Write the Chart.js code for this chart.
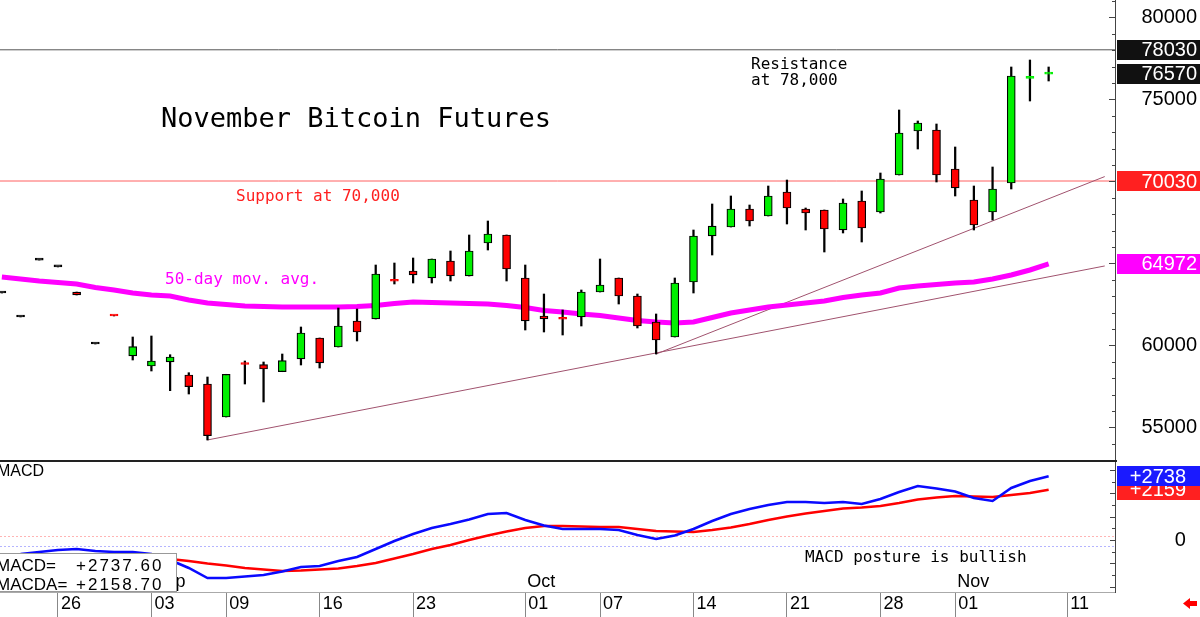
<!DOCTYPE html>
<html>
<head>
<meta charset="utf-8">
<script src="https://cdn.jsdelivr.net/npm/chart.js@4.4.1/dist/chart.umd.min.js"></script>
<style>
  html, body { margin: 0; padding: 0; background: #fff; }
  #wrap { width: 1200px; height: 617px; overflow: hidden; }
  canvas { display: block; }
</style>
</head>
<body>
<div id="wrap">
  <canvas id="price" width="1200" height="460"></canvas>
  <canvas id="macd" width="1200" height="157"></canvas>
</div>
<script>
// trading days shown on the chart (Aug 21 .. Nov 8)
const days = ['Aug 21','Aug 22','Aug 23','Aug 26','Aug 27','Aug 28','Aug 29','Aug 30',
  'Sep 3','Sep 4','Sep 5','Sep 6','Sep 9','Sep 10','Sep 11','Sep 12','Sep 13',
  'Sep 16','Sep 17','Sep 18','Sep 19','Sep 20','Sep 23','Sep 24','Sep 25','Sep 26','Sep 27',
  'Sep 30','Oct 1','Oct 2','Oct 3','Oct 4','Oct 7','Oct 8','Oct 9','Oct 10','Oct 11',
  'Oct 14','Oct 15','Oct 16','Oct 17','Oct 18','Oct 21','Oct 22','Oct 23','Oct 24','Oct 25',
  'Oct 28','Oct 29','Oct 30','Oct 31','Nov 1','Nov 4','Nov 5','Nov 6','Nov 7','Nov 8'];
const axisDays = days.concat(['Nov 11', 'Nov 12', 'Nov 13']);

const open = [63200,61740,65210,64790,63260,60090,61840,59360,58750,58994,
  58201,57652,55640,58880,58829,58402,59177,60457,59908,61494,
  61616,63960,64543,64116,65152,64238,66250,66738,64116,61799,
  61640,61738,63262,64116,63018,61433,60518,63872,66677,67225,
  68323,67896,69360,68323,68262,67043,68811,68140,70396,73079,
  73140,70762,68872,68140,69908,76290,76550];
const high = [63200,61740,65210,64790,63260,60090,61840,60518,60579,59439,
  58341,58079,58244,59055,58994,59481,61128,60457,62286,62225,
  64908,65030,65335,65274,65762,66738,67591,66738,64908,63140,
  62164,63384,65274,64116,63140,61921,64116,67043,68628,69116,
  68567,69725,70091,68384,68262,68933,69421,70518,74360,73689,
  73506,72104,69725,70884,76982,77408,76982];
const low = [63200,61740,65210,64790,63080,60090,61800,59116,58445,57244,
  57042,54238,55640,57652,56555,58402,58811,58628,59908,60274,
  61616,63750,63811,63811,63933,64238,65823,63933,60945,60823,
  60640,61189,63262,62530,61067,59481,60518,63201,65518,67225,
  67286,67896,67408,67043,65701,66860,66311,68079,70396,71982,
  69969,69116,67043,67652,69543,74908,76128];
const close = [63200,61740,65210,64790,63080,60090,61800,59927,59055,59299,
  57488,54500,58244,58840,58567,59073,60762,58933,61189,60823,
  64360,63920,64299,65274,64238,65762,66799,64664,61494,61616,
  61600,63262,63689,63018,61189,60335,63811,66677,67286,68323,
  67591,69116,68384,68079,67103,68689,67164,70152,72957,73567,
  70396,69604,67347,69543,76433,76330,76570];
const ma50 = [64177,64055,63933,63841,63750,63537,63384,63201,63079,63018,
  62774,62591,62500,62408,62378,62348,62348,62348,62348,62378,
  62439,62561,62652,62622,62591,62561,62530,62439,62317,62134,
  62043,61921,61829,61677,61524,61433,61372,61433,61707,61982,
  62165,62348,62470,62591,62713,62927,63079,63201,63506,63628,
  63720,63811,63872,64055,64299,64604,64972];
const macd = [-644,-601,-515,-429,-386,-472,-515,-515,-601,-858,
  -1201,-1630,-1630,-1566,-1502,-1351,-1158,-1115,-901,-729,
  -386,-43,257,515,686,879,1115,1158,858,622,
  472,472,472,429,215,43,193,472,815,1115,
  1330,1502,1630,1630,1587,1630,1544,1759,2059,2317,
  2209,2081,1802,1673,2231,2531,2737.6];
const macdAvg = [-987,-944,-901,-858,-815,-794,-772,-751,-751,-815,
  -901,-1008,-1094,-1201,-1266,-1330,-1308,-1266,-1223,-1115,
  -987,-794,-601,-386,-215,0,193,365,515,601,
  601,579,558,558,472,386,365,343,429,536,
  686,858,1008,1137,1244,1351,1394,1459,1587,1737,
  1823,1888,1866,1845,1930,2016,2158.7];

const tickDays = ['Aug 26','Sep 3','Sep 9','Sep 16','Sep 23','Oct 1','Oct 7','Oct 14','Oct 21','Oct 28','Nov 1','Nov 11'];
const tickLabels = ['26','03','09','16','23','01','07','14','21','28','01','11'];
const monthDays = ['Sep 3', 'Oct 1', 'Nov 1'];
const monthLabels = ['Sep', 'Oct', 'Nov'];
const priceTicks = [55000, 60000, 65000, 70000, 75000, 80000];

const resistance = 78030;
const support = 70030;
// trend lines: anchor low and the value where each meets the right axis
const trendA = [{ day: 'Sep 6', v: 54240 }, { day: 'Nov 13', v: 64850 }];
const trendB = [{ day: 'Oct 10', v: 59480 }, { day: 'Nov 13', v: 70300 }];
const macdRefHi = 172, macdRefLo = -257;

const X_MIN = -0.1, X_MAX = axisDays.length - 0.45;
const pos = d => axisDays.indexOf(d);
const sans = '"Liberation Sans", Arial, sans-serif';
const mono = '"DejaVu Sans Mono", monospace';

Chart.defaults.font.family = sans;
Chart.defaults.color = '#000';

function candleColor(i) {
  if (close[i] > open[i]) return '#00f000';
  if (close[i] < open[i]) return '#ff0000';
  return '#000';
}

function valueBox(ctx, y, fill, text, tx) {
  ctx.fillStyle = fill;
  ctx.fillRect(1117, Math.round(y) - 10, 83, 20);
  ctx.fillStyle = '#fff';
  ctx.font = '20px ' + sans;
  ctx.textAlign = 'right';
  ctx.textBaseline = 'middle';
  ctx.fillText(text, tx, y + 1);
}

function fmtSigned(v, digits) {
  return (v >= 0 ? '+' : '') + v.toFixed(digits);
}

function fixY(width) {
  return s => { s.width = width; s.paddingTop = 0; s.paddingBottom = 0; };
}

// ---------- price panel ----------
const priceDecor = {
  id: 'priceDecor',
  afterDraw(chart) {
    const { ctx, chartArea: a, scales: { y } } = chart;
    ctx.save();
    ctx.strokeStyle = '#444';
    ctx.lineWidth = 1;
    for (let v = Math.ceil(y.min / 1000) * 1000; v <= y.max; v += 1000) {
      const py = Math.round(y.getPixelForValue(v)) + 0.5;
      const len = v % 5000 === 0 ? 6 : 3;
      ctx.beginPath(); ctx.moveTo(a.right - len, py); ctx.lineTo(a.right, py); ctx.stroke();
    }
    const last = days.length - 1;
    valueBox(ctx, y.getPixelForValue(resistance), '#111', String(resistance), 1197);
    valueBox(ctx, y.getPixelForValue(close[last]), '#111', String(close[last]), 1197);
    valueBox(ctx, y.getPixelForValue(support), '#ff2020', String(support), 1197);
    valueBox(ctx, y.getPixelForValue(ma50[last]), '#ff00ff', String(ma50[last]), 1197);

    ctx.textAlign = 'left';
    ctx.textBaseline = 'middle';
    ctx.fillStyle = '#000';
    ctx.font = '27px ' + mono;
    ctx.fillText('November Bitcoin Futures', 161, 120);
    ctx.font = '16px ' + mono;
    ctx.fillText('Resistance', 751, 65);
    ctx.fillText('at 78,000', 751, 81);
    ctx.fillStyle = '#ff2020';
    ctx.fillText('Support at 70,000', 236, 197);
    ctx.fillStyle = '#ff00ff';
    ctx.fillText('50-day mov. avg.', 165, 280);
    ctx.restore();
  }
};

new Chart(document.getElementById('price'), {
  type: 'bar',
  data: {
    datasets: [
      {
        label: 'body',
        data: days.map((d, i) => ({ x: i, y: [open[i], close[i]] })),
        backgroundColor: c => candleColor(c.dataIndex),
        borderColor: c => Math.abs(close[c.dataIndex] - open[c.dataIndex]) < 100 ? candleColor(c.dataIndex) : '#000',
        borderWidth: 1.2,
        borderSkipped: false,
        barThickness: 8,
        minBarLength: 2,
        grouped: false,
        order: 0
      },
      {
        label: 'wick',
        data: days.map((d, i) => ({ x: i, y: [low[i], high[i]] })),
        backgroundColor: '#000',
        borderWidth: 0,
        barThickness: 1.6,
        grouped: false,
        order: 1
      },
      {
        type: 'line', label: '50-day',
        data: days.map((d, i) => ({ x: i, y: ma50[i] })),
        borderColor: '#ff00ff', borderWidth: 5, pointRadius: 0, tension: 0, order: 2
      },
      {
        type: 'line', label: 'trend A',
        data: trendA.map(p => ({ x: pos(p.day), y: p.v })),
        borderColor: '#a0526e', borderWidth: 1, pointRadius: 0, order: 3
      },
      {
        type: 'line', label: 'trend B',
        data: trendB.map(p => ({ x: pos(p.day), y: p.v })),
        borderColor: '#a0526e', borderWidth: 1, pointRadius: 0, order: 3
      },
      {
        type: 'line', label: 'resistance',
        data: [{ x: X_MIN, y: resistance }, { x: X_MAX, y: resistance }],
        borderColor: '#555', borderWidth: 1, pointRadius: 0, order: 4
      },
      {
        type: 'line', label: 'support',
        data: [{ x: X_MIN, y: support }, { x: X_MAX, y: support }],
        borderColor: '#ff6060', borderWidth: 1, pointRadius: 0, order: 4
      }
    ]
  },
  options: {
    responsive: false,
    animation: false,
    layout: { padding: { left: 0, right: 3, top: 0, bottom: 0 } },
    plugins: { legend: { display: false }, tooltip: { enabled: false } },
    scales: {
      x: { type: 'linear', min: X_MIN, max: X_MAX, offset: false, display: false },
      y: {
        position: 'right',
        min: 53018, max: 81067,
        afterBuildTicks: s => { s.ticks = priceTicks.map(v => ({ value: v })); },
        afterFit: fixY(82),
        ticks: { callback: v => String(v), font: { size: 20 }, color: '#000', crossAlign: 'far', padding: 0 },
        grid: { drawOnChartArea: false, drawTicks: false },
        border: { display: true, color: '#444', width: 1 }
      }
    }
  },
  plugins: [priceDecor]
});

// ---------- MACD panel ----------
const macdDecor = {
  id: 'macdDecor',
  beforeDatasetsDraw(chart) {
    const { ctx, chartArea: a, scales: { y } } = chart;
    ctx.save();
    ctx.lineWidth = 1;
    ctx.setLineDash([2, 2]);
    [[macdRefHi, '#ffb4b4'], [macdRefLo, '#b4b4ff']].forEach(([v, c]) => {
      const py = Math.round(y.getPixelForValue(v)) + 0.5;
      ctx.strokeStyle = c;
      ctx.beginPath(); ctx.moveTo(a.left, py); ctx.lineTo(a.right, py); ctx.stroke();
    });
    ctx.restore();
  },
  afterDraw(chart) {
    const { ctx, chartArea: a, scales: { x, y } } = chart;
    ctx.save();
    ctx.fillStyle = '#222';
    ctx.fillRect(0, 0, a.right + 2, 2);

    ctx.strokeStyle = '#444';
    ctx.lineWidth = 1;
    for (let v = Math.ceil(y.min / 500) * 500; v <= y.max; v += 500) {
      const py = Math.round(y.getPixelForValue(v)) + 0.5;
      const len = v % 1000 === 0 ? 5 : 3;
      ctx.beginPath(); ctx.moveTo(a.right - len, py); ctx.lineTo(a.right, py); ctx.stroke();
    }

    ctx.fillStyle = '#000';
    ctx.textAlign = 'left';
    ctx.textBaseline = 'middle';
    ctx.font = '18px ' + sans;
    monthDays.forEach((d, k) => ctx.fillText(monthLabels[k], x.getPixelForValue(pos(d)) + 2, 122));

    ctx.font = '16px ' + sans;
    ctx.fillText('MACD', -3, 12);
    ctx.font = '16px ' + mono;
    ctx.fillText('MACD posture is bullish', 805, 98);

    // readout box
    ctx.fillStyle = '#fff';
    ctx.fillRect(-1, 93, 178, 39);
    ctx.strokeStyle = '#999';
    ctx.strokeRect(-0.5, 93.5, 177, 38);
    const last = days.length - 1;
    ctx.fillStyle = '#000';
    ctx.font = '17px ' + sans;
    ctx.fillText('MACD=', -4, 106);
    ctx.fillText('MACDA=', -4, 125);
    ctx.letterSpacing = '2px';
    ctx.fillText(fmtSigned(macd[last], 2), 76, 106);
    ctx.fillText(fmtSigned(macdAvg[last], 2), 76, 125);
    ctx.letterSpacing = '0px';

    valueBox(ctx, y.getPixelForValue(macdAvg[last]), '#ff2020', fmtSigned(Math.round(macdAvg[last]), 0), 1186);
    valueBox(ctx, y.getPixelForValue(macd[last]), '#1a1aff', fmtSigned(Math.round(macd[last]), 0), 1186);

    // small red arrow, bottom right
    ctx.fillStyle = '#ff0000';
    ctx.beginPath();
    ctx.moveTo(1183, 143.5);
    ctx.lineTo(1190, 138);
    ctx.lineTo(1190, 141);
    ctx.lineTo(1197, 141);
    ctx.lineTo(1197, 146);
    ctx.lineTo(1190, 146);
    ctx.lineTo(1190, 149);
    ctx.closePath();
    ctx.fill();
    ctx.restore();
  }
};

new Chart(document.getElementById('macd'), {
  type: 'line',
  data: {
    datasets: [
      {
        label: 'MACD',
        data: days.map((d, i) => ({ x: i, y: macd[i] })),
        borderColor: '#0a0aff', borderWidth: 2.5, pointRadius: 0, tension: 0, order: 0
      },
      {
        label: 'MACDA',
        data: days.map((d, i) => ({ x: i, y: macdAvg[i] })),
        borderColor: '#ff0000', borderWidth: 2.5, pointRadius: 0, tension: 0, order: 1
      }
    ]
  },
  options: {
    responsive: false,
    animation: false,
    layout: { padding: { left: 0, right: 3, top: 2, bottom: 0 } },
    plugins: { legend: { display: false }, tooltip: { enabled: false } },
    scales: {
      x: {
        type: 'linear', min: X_MIN, max: X_MAX, offset: false,
        afterBuildTicks: s => { s.ticks = tickDays.map(d => ({ value: pos(d) })); },
        afterFit: s => { s.height = 25; s.paddingLeft = 0; s.paddingRight = 0; },
        ticks: {
          autoSkip: false, maxRotation: 0, align: 'start', labelOffset: 3, padding: -24,
          font: { size: 18 }, color: '#000',
          callback: v => tickLabels[tickDays.findIndex(d => pos(d) === v)]
        },
        grid: { drawOnChartArea: false, drawTicks: true, tickLength: 25, color: '#888' },
        border: { display: true, color: '#aaa', width: 1 }
      },
      y: {
        position: 'right',
        min: -2231, max: 3346,
        afterBuildTicks: s => { s.ticks = [{ value: 0 }]; },
        afterFit: fixY(82),
        ticks: { callback: () => '0  ', font: { size: 20 }, color: '#000', crossAlign: 'far', padding: 0 },
        grid: { drawOnChartArea: false, drawTicks: false },
        border: { display: true, color: '#444', width: 1 }
      }
    }
  },
  plugins: [macdDecor]
});
</script>
</body>
</html>
